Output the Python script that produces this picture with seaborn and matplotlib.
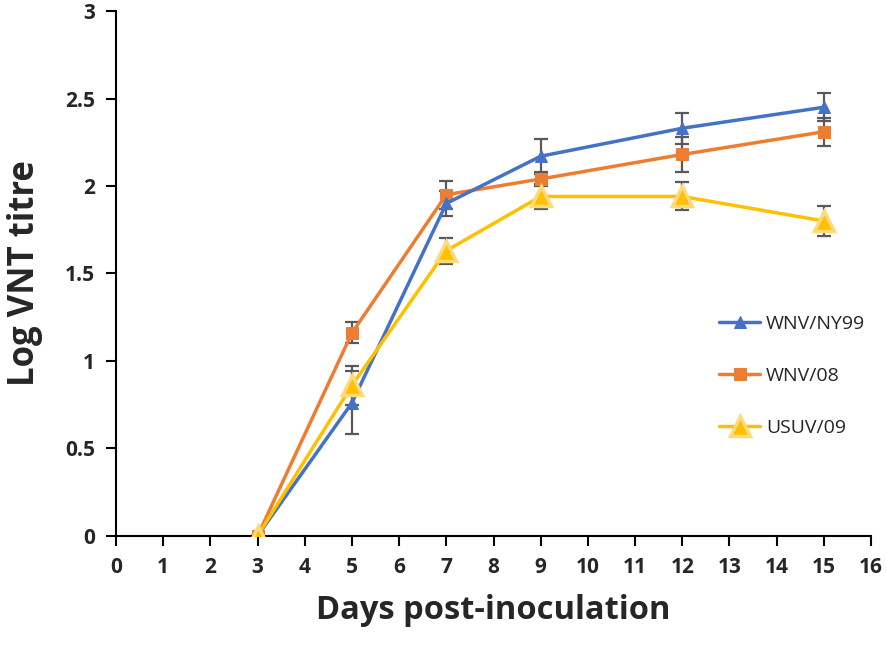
import matplotlib
matplotlib.use("Agg")
import matplotlib.pyplot as plt
import seaborn as sns
import pandas as pd
import numpy as np

days = [3, 5, 7, 9, 12, 15]
series_names = ["WNV/NY99", "WNV/08", "USUV/09"]
ny99 = [0.0, 0.76, 1.90, 2.17, 2.33, 2.45]
ny99_err = [0.0, 0.18, 0.07, 0.10, 0.09, 0.08]
w08 = [0.0, 1.16, 1.95, 2.04, 2.18, 2.31]
w08_err = [0.0, 0.06, 0.08, 0.04, 0.10, 0.08]
usuv = [0.0, 0.86, 1.63, 1.94, 1.94, 1.80]
usuv_err = [0.0, 0.11, 0.075, 0.07, 0.08, 0.085]
x_ticks = list(range(0, 17))
y_ticks = [0, 0.5, 1, 1.5, 2, 2.5, 3]
y_tick_labels = ["0", "0.5", "1", "1.5", "2", "2.5", "3"]

sns.set_theme(style="ticks")
plt.rcParams['font.family'] = ['Open Sans', 'DejaVu Sans']

df = pd.DataFrame({
    "day": days * 3,
    "titre": ny99 + w08 + usuv,
    "err": ny99_err + w08_err + usuv_err,
    "series": sum([[n] * len(days) for n in series_names], []),
})

colors = {"WNV/NY99": "#4472C4", "WNV/08": "#ED7D31", "USUV/09": "#FFC000"}

fig = plt.figure(figsize=(8.86, 6.51), dpi=100)
ax = fig.add_axes([0.131, 0.177, 0.852, 0.806])

# error bars
for name in series_names:
    sub = df[df["series"] == name]
    ax.errorbar(sub["day"], sub["titre"], yerr=sub["err"], fmt="none",
                ecolor="#595959", elinewidth=1.6, capsize=5, capthick=1.6, zorder=2)

sns.lineplot(data=df[df["series"] == "WNV/NY99"], x="day", y="titre", ax=ax,
             color=colors["WNV/NY99"], lw=2.5, marker="^", markersize=9,
             markeredgecolor=colors["WNV/NY99"], label="WNV/NY99", zorder=4)
sns.lineplot(data=df[df["series"] == "WNV/08"], x="day", y="titre", ax=ax,
             color=colors["WNV/08"], lw=2.5, marker="s", markersize=8,
             markeredgecolor=colors["WNV/08"], label="WNV/08", zorder=3)
sns.lineplot(data=df[df["series"] == "USUV/09"], x="day", y="titre", ax=ax,
             color=colors["USUV/09"], lw=2.5, marker="^", markersize=14,
             markeredgecolor="#FFD97A", markeredgewidth=2.5, label="USUV/09", zorder=5)

ax.set_xlim(0, 16)
ax.set_ylim(0, 3)
ax.set_xticks(x_ticks)
ax.set_xticklabels([str(t) for t in x_ticks], fontsize=15, fontweight="bold")
ax.set_yticks(y_ticks)
ax.set_yticklabels(y_tick_labels, fontsize=15, fontweight="bold")
ax.tick_params(axis="both", direction="out", length=7, width=1.5, color="black", pad=8)
for s in ["top", "right"]:
    ax.spines[s].set_visible(False)
for s in ["left", "bottom"]:
    ax.spines[s].set_linewidth(1.5)
    ax.spines[s].set_color("black")

ax.set_xlabel("Days post-inoculation", fontsize=23.5, fontweight="bold", labelpad=12)
ax.set_ylabel("Log VNT titre", fontsize=25, fontweight="bold", labelpad=16)

leg = ax.legend(loc="center left", bbox_to_anchor=(0.776, 0.305), frameon=False,
                fontsize=14, labelspacing=1.75, handlelength=2.1, handletextpad=0.3)

fig.savefig("out.png", dpi=100)
